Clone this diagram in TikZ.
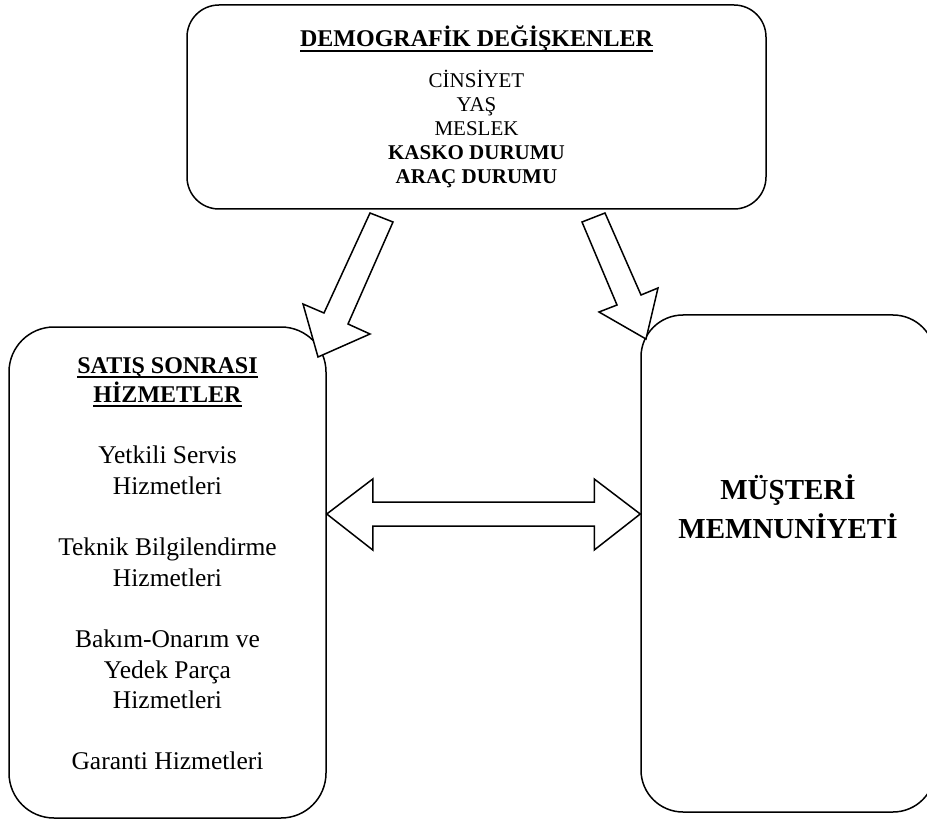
\documentclass[tikz,border=0pt]{standalone}
\usepackage{fontspec}
\setmainfont{Liberation Serif}
\usetikzlibrary{positioning,calc}
\newsavebox\ulbox
\newcommand{\ulin}[1]{\sbox\ulbox{#1}\rlap{\rule[-4.6pt]{\wd\ulbox}{1.9pt}}\usebox\ulbox}

\begin{document}
\begin{tikzpicture}[x=1pt,y=-1pt,
	box/.style={draw,line width=1.5pt,inner sep=0pt,rounded corners=#1},
	box/.default=40pt,
	txt/.style={inner sep=0pt,align=center},
	blockarrow/.style={draw,line width=1.5pt,fill=white,line join=miter}]
	\path[use as bounding box,clip] (0,0) rectangle (927,821);
	% the three boxes
	\node[box=32pt,minimum width=579pt,minimum height=204pt] (demo) at (476.5,107) {};
	\node[box=45pt,minimum width=317pt,minimum height=491pt] (sat) at (167.5,572.5) {};
	\node[box=42pt,minimum width=294pt,minimum height=497pt] (mem) at (788,563.5) {};
	% texts
	\node[txt,anchor=base,font={\fontsize{24}{29}\selectfont\bfseries}] (demotitle) at (476.5,47) {\ulin{DEMOGRAFİK DEĞİŞKENLER}};
	\node[txt,anchor=north,font={\fontsize{21}{24}\selectfont}] (demolist) at (476.5,70)
		{CİNSİYET\\YAŞ\\MESLEK\\\textbf{KASKO DURUMU}\\\textbf{ARAÇ DURUMU}};
	\node[txt,anchor=north,font={\fontsize{24}{29}\selectfont\bfseries}] (sattitle) at (167.5,357)
		{\ulin{SATIŞ SONRASI}\\\ulin{HİZMETLER}};
	\node[txt,anchor=north,font={\fontsize{25.5}{30.6}\selectfont}] (satlist) at (167.5,446)
		{Yetkili Servis\\Hizmetleri\\[30.6pt]Teknik Bilgilendirme\\Hizmetleri\\[30.6pt]Bakım-Onarım ve\\Yedek Parça\\Hizmetleri\\[30.6pt]Garanti Hizmetleri};
	\node[txt,anchor=north,font={\fontsize{29}{39}\selectfont\bfseries}] (memtext) at (788,474.5)
		{MÜŞTERİ\\MEMNUNİYETİ};
	% block arrows
	\draw[blockarrow] (370,213) -- (393,222) -- (348,324) -- (370,334) -- (318,357) -- (303,304) -- (324,313) -- cycle;
	\draw[blockarrow] (582,222) -- (605,213) -- (641,295) -- (658,288) -- (646,339) -- (599,312) -- (617,305) -- cycle;
	\coordinate (mid) at (0,514);
	\coordinate (tipl) at (sat.east |- mid);
	\coordinate (tipr) at (mem.west |- mid);
	\draw[blockarrow] (tipl) -- ++(46,-35) -- ++(0,23) -- ($(tipr)+(-46,-12)$) -- ++(0,-23) -- (tipr)
		-- ++(-46,36) -- ++(0,-24) -- ($(tipl)+(46,12)$) -- ++(0,24) -- cycle;
\end{tikzpicture}
\end{document}
